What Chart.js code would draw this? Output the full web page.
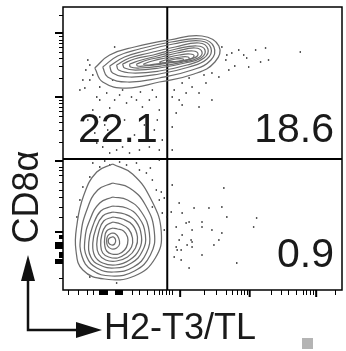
<!DOCTYPE html>
<html><head><meta charset="utf-8">
<script src="https://cdn.jsdelivr.net/npm/chart.js@4.4.1/dist/chart.umd.min.js"></script>
<style>html,body{margin:0;padding:0;background:#fff}#wrap{width:346px;height:351px;position:relative}</style>
</head><body><div id="wrap"><canvas id="c"></canvas></div>
<script>
// ---- Labels ----
const xLabel = "H2-T3/TL";
const yLabel = "CD8α";
const pctUpperLeft = "22.1";
const pctUpperRight = "18.6";
const pctLowerRight = "0.9";

// ---- Axis ranges (display channel units) ----
const xRange = [0, 281];
const yRange = [0, 283];

// ---- Quadrant gate ----
const gateX = 105;
const gateY = 131;

// ---- Tick values (display channel units) ----
const xTicksMajor = [118, 188, 255];
const xTicksMinor = [5,15,24,30,36,37,38,39,40,41,42,43,44,52,53,54,55,56,57,58,59,69,77,85,92,97,100,104,107,110,142,154,164,170,175,179,182,185,209,220,227,235,242,245,249,252,274];
const yTicksMajor = [257,193,129,58,47,46,45,44,43,42,30,29,28,27];
const yTicksMinor = [275,254,250,247,243,238,232,224,212,190,187,183,179,174,168,160,148,123,120,115,108,100,93,83,73,55,54,53,52,38,37,36,35,34,33,12];

// ---- Contours: CD8+ population (upper) ----
const upperContours = [
 [[32,222],[47,235],[72,243],[107,250],[140,254],[157,244],[153,228],[132,216],[97,208],[64,202],[40,208]],
 [[40,223],[55,234],[77,241],[109,248],[140,251],[152,243],[149,230],[130,220],[97,212],[65,208],[45,213]],
 [[47,224],[62,233],[82,239],[111,246],[139,249],[149,242],[145,231],[127,223],[97,216],[67,213],[50,217]],
 [[54,225],[67,232],[87,237],[113,243],[137,247],[146,241],[142,232],[125,225],[97,219],[70,217],[56,220]],
 [[60,226],[72,231],[91,235],[114,241],[135,244],[143,240],[139,232],[123,227],[97,222],[73,220],[62,222]],
 [[67,226],[79,230],[95,234],[115,239],[133,242],[140,238],[136,232],[121,228],[99,224],[77,222],[68,223]],
 [[74,226],[85,230],[99,233],[115,237],[131,239],[136,236],[132,232],[119,229],[100,226],[82,224],[75,224]],
 [[81,226],[90,229],[103,232],[117,235],[128,236],[132,234],[128,231],[117,229],[101,227],[87,225],[82,225]],
 [[97,228],[107,231],[119,233],[126,233],[127,231],[120,229],[107,228],[99,227]],
 [[105,229],[114,231],[121,231],[120,229],[112,228],[106,228]]
];

// ---- Contours: CD8- population (lower) ----
const lowerContours = [
 [[50,126],[34,118],[21,95],[14,65],[13,40],[20,20],[42,11],[72,14],[93,32],[99,58],[89,90],[70,116]],
 [[50,107],[35,100],[24,80],[18,55],[19,34],[29,20],[49,14],[72,19],[88,35],[92,58],[83,85],[67,102]],
 [[50,93],[37,87],[27,70],[22,50],[24,33],[34,22],[51,18],[71,23],[84,37],[87,57],[79,78],[65,90]],
 [[50,84],[38,79],[30,64],[26,48],[28,33],[37,25],[52,22],[69,27],[80,39],[83,55],[76,73],[64,82]],
 [[50,78],[40,74],[33,61],[30,47],[32,34],[40,27],[53,25],[67,30],[77,41],[79,54],[73,69],[62,76]],
 [[50,73],[41,69],[36,58],[34,46],[36,36],[43,30],[54,29],[65,33],[73,42],[75,53],[70,65],[60,71]],
 [[50,68],[43,64],[39,55],[38,45],[40,37],[46,33],[55,32],[63,36],[69,43],[70,52],[66,61],[58,66]],
 [[50,62],[44,59],[42,52],[42,45],[44,39],[49,36],[56,36],[62,40],[65,46],[65,53],[61,59],[55,61]],
 [[49,57],[45,54],[44,49],[45,44],[49,41],[54,42],[57,46],[56,52],[53,56]],
 [[49,53],[46,51],[46,47],[49,45],[52,46],[53,50],[51,53]]
];

// ---- Outlier events ----
const eventsUpperLeft = [[25,230],[27,225],[17,200],[22,202],[34,193],[37,190],[44,197],[52,190],[57,195],[64,187],[69,193],[74,190],[80,183],[87,190],[94,193],[97,180],[30,180],[37,173],[32,157],[34,147],[40,143],[47,137],[54,140],[60,143],[67,137],[77,140],[87,143],[97,140],[52,243],[27,210],[20,210],[37,203],[50,210],[42,165],[62,170],[82,165],[25,170],[72,155],[92,160],[47,182],[30,215],[23,220],[60,200],[78,198],[90,200],[45,160],[55,150],[100,150],[95,170]];
const eventsUpperRight = [[110,193],[117,190],[114,177],[124,197],[130,203],[137,197],[144,207],[150,190],[157,213],[164,230],[170,237],[177,240],[194,240],[204,242],[207,230],[187,223],[239,238],[160,243],[167,220],[150,217],[120,207],[110,163],[110,140],[137,183],[182,235],[199,228],[173,224],[127,212],[142,215],[185,232],[165,235],[112,200],[120,185]];
const eventsLowerLeft = [[30,127],[37,123],[47,125],[64,125],[77,120],[84,117],[90,110],[94,100],[97,90],[20,103],[17,90],[27,113],[90,83],[100,77],[97,130],[74,127],[14,73],[27,13],[54,7],[102,60],[57,128],[42,129],[88,122],[99,98]];
const eventsLowerRight = [[162,102],[117,87],[120,77],[109,78],[114,63],[124,67],[127,68],[130,60],[140,68],[140,63],[150,60],[160,57],[157,50],[152,45],[140,35],[130,43],[129,50],[120,55],[117,50],[115,40],[112,33],[119,30],[127,22],[175,27],[195,72],[192,63],[165,73],[160,83],[147,82],[132,82],[110,105],[102,92],[105,73],[130,48],[125,45],[119,40],[114,43]];

const toXY = a => a.map(p => ({x: p[0], y: p[1]}));
const closed = a => toXY(a.concat([a[0]]));

const datasets = [];
upperContours.concat(lowerContours).forEach(c => {
  datasets.push({data: closed(c), showLine: true, borderColor: '#6c6c6c', borderWidth: 1.25, pointRadius: 0, tension: 0.45, fill: false});
});
[eventsUpperLeft, eventsUpperRight, eventsLowerLeft, eventsLowerRight].forEach(ev => {
  datasets.push({data: toXY(ev), showLine: false, pointRadius: 1, pointStyle: 'rect', backgroundColor: '#111', borderWidth: 0});
});
// quadrant gate lines
datasets.push({data: [{x: gateX, y: yRange[0]}, {x: gateX, y: yRange[1]}], showLine: true, borderColor: '#000', borderWidth: 2, pointRadius: 0});
datasets.push({data: [{x: xRange[0], y: gateY}, {x: xRange[1], y: gateY}], showLine: true, borderColor: '#000', borderWidth: 2, pointRadius: 0});

const decor = {
  id: 'decor',
  afterDatasetsDraw(chart) {
    const ctx = chart.ctx, a = chart.chartArea, xs = chart.scales.x, ys = chart.scales.y;
    ctx.save();
    // frame
    ctx.strokeStyle = '#000'; ctx.lineWidth = 1.5;
    ctx.strokeRect(a.left, a.top, a.right - a.left, a.bottom - a.top);
    // ticks
    ctx.lineWidth = 1;
    ctx.beginPath();
    xTicksMinor.forEach(v => { const px = Math.round(xs.getPixelForValue(v)) + 0.5; ctx.moveTo(px, a.bottom); ctx.lineTo(px, a.bottom + 5); });
    yTicksMinor.forEach(v => { const py = Math.round(ys.getPixelForValue(v)) + 0.5; ctx.moveTo(a.left, py); ctx.lineTo(a.left - 4, py); });
    ctx.stroke();
    ctx.lineWidth = 2;
    ctx.beginPath();
    xTicksMajor.forEach(v => { const px = xs.getPixelForValue(v); ctx.moveTo(px, a.bottom); ctx.lineTo(px, a.bottom + 7); });
    yTicksMajor.forEach(v => { const py = ys.getPixelForValue(v); ctx.moveTo(a.left, py); ctx.lineTo(a.left - 8, py); });
    ctx.stroke();
    // quadrant percentages
    ctx.fillStyle = '#1a1a1a';
    ctx.font = '41px "Liberation Sans", Arial, sans-serif';
    ctx.textBaseline = 'alphabetic';
    ctx.textAlign = 'left';
    ctx.fillText(pctUpperLeft, 78, 142);
    ctx.textAlign = 'right';
    ctx.fillText(pctUpperRight, 334, 142);
    ctx.fillText(pctLowerRight, 334, 267);
    // axis titles
    ctx.font = '36px "Liberation Sans", Arial, sans-serif';
    ctx.textAlign = 'left';
    ctx.fillText(xLabel, 104, 339);
    ctx.save();
    ctx.translate(38, 197);
    ctx.rotate(-Math.PI / 2);
    ctx.textAlign = 'center';
    ctx.fillText(yLabel, 0, 0);
    ctx.restore();
    // arrows
    ctx.strokeStyle = '#111'; ctx.fillStyle = '#111'; ctx.lineWidth = 2.5;
    ctx.beginPath(); ctx.moveTo(28, 279); ctx.lineTo(28, 330); ctx.lineTo(78, 330); ctx.stroke();
    ctx.beginPath(); ctx.moveTo(28, 255); ctx.lineTo(21, 281); ctx.lineTo(35, 281); ctx.closePath(); ctx.fill();
    ctx.beginPath(); ctx.moveTo(102, 330); ctx.lineTo(76, 322); ctx.lineTo(76, 338); ctx.closePath(); ctx.fill();
    // small grey mark
    ctx.fillStyle = '#b4b4b4';
    ctx.fillRect(302, 338, 11, 11);
    ctx.restore();
  }
};

new Chart(document.getElementById('c'), {
  type: 'scatter',
  data: {datasets},
  options: {
    responsive: true, maintainAspectRatio: false, animation: false,
    layout: {padding: {left: 63, top: 7, right: 2, bottom: 61}},
    plugins: {legend: {display: false}, tooltip: {enabled: false}},
    scales: {
      x: {type: 'linear', min: xRange[0], max: xRange[1], display: false},
      y: {type: 'linear', min: yRange[0], max: yRange[1], display: false}
    }
  },
  plugins: [decor]
});
</script></body></html>
